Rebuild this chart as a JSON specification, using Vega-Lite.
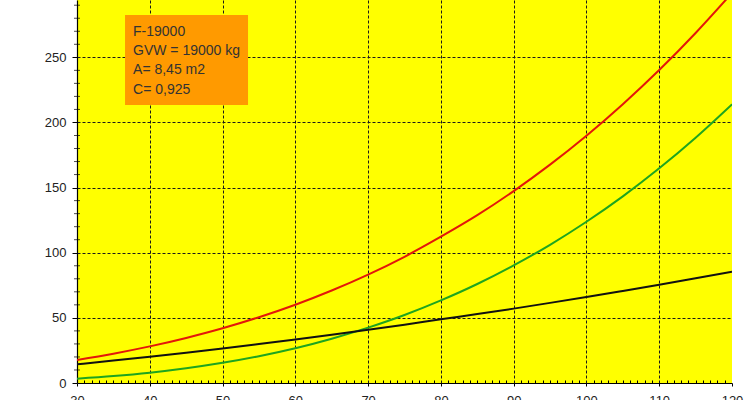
{
  "$schema": "https://vega.github.io/schema/vega-lite/v6.json",
  "width": 655,
  "height": 383,
  "autosize": {"type": "none"},
  "padding": {"left": 77, "top": 0, "right": 18, "bottom": 17},
  "background": "#ffffff",
  "config": {"view": {"fill": "#FFFF00", "stroke": null}, "font": "Liberation Sans"},
  "datasets": {
    "power": [
      {"v": 30, "s": "total", "p": 17.7}, {"v": 35, "s": "total", "p": 22.5}, {"v": 40, "s": "total", "p": 28.1},
      {"v": 45, "s": "total", "p": 34.6}, {"v": 50, "s": "total", "p": 42.0}, {"v": 55, "s": "total", "p": 50.5},
      {"v": 60, "s": "total", "p": 60.1}, {"v": 65, "s": "total", "p": 71.0}, {"v": 70, "s": "total", "p": 83.2},
      {"v": 75, "s": "total", "p": 96.9}, {"v": 80, "s": "total", "p": 112.3}, {"v": 85, "s": "total", "p": 128.8},
      {"v": 90, "s": "total", "p": 147.3}, {"v": 95, "s": "total", "p": 167.6}, {"v": 100, "s": "total", "p": 189.8},
      {"v": 105, "s": "total", "p": 214.0}, {"v": 110, "s": "total", "p": 240.2}, {"v": 115, "s": "total", "p": 268.7},
      {"v": 120, "s": "total", "p": 299.4},
      {"v": 30, "s": "aero", "p": 3.3}, {"v": 35, "s": "aero", "p": 5.3}, {"v": 40, "s": "aero", "p": 7.9},
      {"v": 45, "s": "aero", "p": 11.3}, {"v": 50, "s": "aero", "p": 15.5}, {"v": 55, "s": "aero", "p": 20.6},
      {"v": 60, "s": "aero", "p": 26.7}, {"v": 65, "s": "aero", "p": 34.0}, {"v": 70, "s": "aero", "p": 42.5},
      {"v": 75, "s": "aero", "p": 52.2}, {"v": 80, "s": "aero", "p": 63.4}, {"v": 85, "s": "aero", "p": 76.0},
      {"v": 90, "s": "aero", "p": 90.3}, {"v": 95, "s": "aero", "p": 106.1}, {"v": 100, "s": "aero", "p": 123.8},
      {"v": 105, "s": "aero", "p": 143.3}, {"v": 110, "s": "aero", "p": 164.8}, {"v": 115, "s": "aero", "p": 188.3},
      {"v": 120, "s": "aero", "p": 213.9},
      {"v": 30, "s": "rolling", "p": 14.3}, {"v": 35, "s": "rolling", "p": 17.2}, {"v": 40, "s": "rolling", "p": 20.2},
      {"v": 45, "s": "rolling", "p": 23.3}, {"v": 50, "s": "rolling", "p": 26.5}, {"v": 55, "s": "rolling", "p": 29.9},
      {"v": 60, "s": "rolling", "p": 33.4}, {"v": 65, "s": "rolling", "p": 37.0}, {"v": 70, "s": "rolling", "p": 40.8},
      {"v": 75, "s": "rolling", "p": 44.7}, {"v": 80, "s": "rolling", "p": 48.9}, {"v": 85, "s": "rolling", "p": 52.9},
      {"v": 90, "s": "rolling", "p": 57.1}, {"v": 95, "s": "rolling", "p": 61.5}, {"v": 100, "s": "rolling", "p": 66.0},
      {"v": 105, "s": "rolling", "p": 70.7}, {"v": 110, "s": "rolling", "p": 75.5}, {"v": 115, "s": "rolling", "p": 80.4},
      {"v": 120, "s": "rolling", "p": 85.4}
    ],
    "yminor": [
      {"t": 10}, {"t": 20}, {"t": 30}, {"t": 40}, {"t": 60}, {"t": 70}, {"t": 80}, {"t": 90},
      {"t": 110}, {"t": 120}, {"t": 130}, {"t": 140}, {"t": 160}, {"t": 170}, {"t": 180}, {"t": 190},
      {"t": 210}, {"t": 220}, {"t": 230}, {"t": 240}, {"t": 260}, {"t": 270}, {"t": 280}, {"t": 290}
    ]
  },
  "layer": [
    {
      "data": {"name": "power"},
      "mark": {"type": "line", "strokeWidth": 2, "clip": true, "interpolate": "monotone"},
      "encoding": {
        "x": {
          "field": "v", "type": "quantitative",
          "scale": {"domain": [30, 120], "nice": false, "zero": false},
          "axis": {
            "title": null,
            "tickCount": 200,
            "format": "d",
            "values": [30,31,32,33,34,35,36,37,38,39,40,41,42,43,44,45,46,47,48,49,50,51,52,53,54,55,56,57,58,59,60,61,62,63,64,65,66,67,68,69,70,71,72,73,74,75,76,77,78,79,80,81,82,83,84,85,86,87,88,89,90,91,92,93,94,95,96,97,98,99,100,101,102,103,104,105,106,107,108,109,110,111,112,113,114,115,116,117,118,119,120],
            "labelExpr": "datum.value % 10 === 0 ? datum.label : ''",
            "labelOverlap": false,
            "labelFlush": false,
            "labelFontSize": 13,
            "labelColor": "#222222",
            "labelPadding": 8,
            "grid": true,
            "gridColor": "#1a1a1a",
            "gridDash": [3, 2],
            "gridWidth": 1,
            "gridOpacity": {"condition": {"test": "datum.value % 10 === 0 && datum.value > 30 && datum.value < 120", "value": 1}, "value": 0},
            "tickSize": {"condition": {"test": "datum.value % 10 === 0", "value": 3}, "value": -3},
            "tickColor": "#000000",
            "domainColor": "#000000",
            "domainWidth": 1.2
          }
        },
        "y": {
          "field": "p", "type": "quantitative",
          "scale": {"domain": [0, 294], "nice": false},
          "axis": {
            "title": null,
            "values": [0, 50, 100, 150, 200, 250],
            "format": "d",
            "labelFontSize": 13,
            "labelColor": "#222222",
            "labelPadding": 6,
            "tickSize": 5,
            "tickColor": "#000000",
            "grid": true,
            "gridColor": "#1a1a1a",
            "gridDash": [3, 2],
            "gridWidth": 1,
            "gridOpacity": {"condition": {"test": "datum.value > 0", "value": 1}, "value": 0},
            "domainColor": "#000000",
            "domainWidth": 1.2
          }
        },
        "color": {
          "field": "s", "type": "nominal",
          "scale": {"domain": ["total", "aero", "rolling"], "range": ["#E3170A", "#1FA51F", "#111111"]},
          "legend": null
        }
      }
    },
    {
      "data": {"name": "yminor"},
      "mark": {"type": "tick", "orient": "horizontal", "size": 6, "thickness": 1, "color": "#000000"},
      "encoding": {
        "x": {"datum": 30, "type": "quantitative"},
        "y": {"field": "t", "type": "quantitative"}
      }
    },
    {
      "data": {"values": [{}]},
      "mark": {"type": "rect", "fill": "#FF9A00"},
      "encoding": {
        "x": {"datum": 36.6, "type": "quantitative"},
        "x2": {"datum": 53.5},
        "y": {"datum": 282.5, "type": "quantitative"},
        "y2": {"datum": 213.4}
      }
    },
    {
      "data": {"values": [{}]},
      "mark": {
        "type": "text",
        "text": ["F-19000", "GVW = 19000 kg", "A= 8,45 m2", "C= 0,925"],
        "align": "left",
        "baseline": "alphabetic",
        "fontSize": 14,
        "lineHeight": 19.4,
        "color": "#333333"
      },
      "encoding": {
        "x": {"datum": 37.7, "type": "quantitative"},
        "y": {"datum": 266.6, "type": "quantitative"}
      }
    }
  ]
}
